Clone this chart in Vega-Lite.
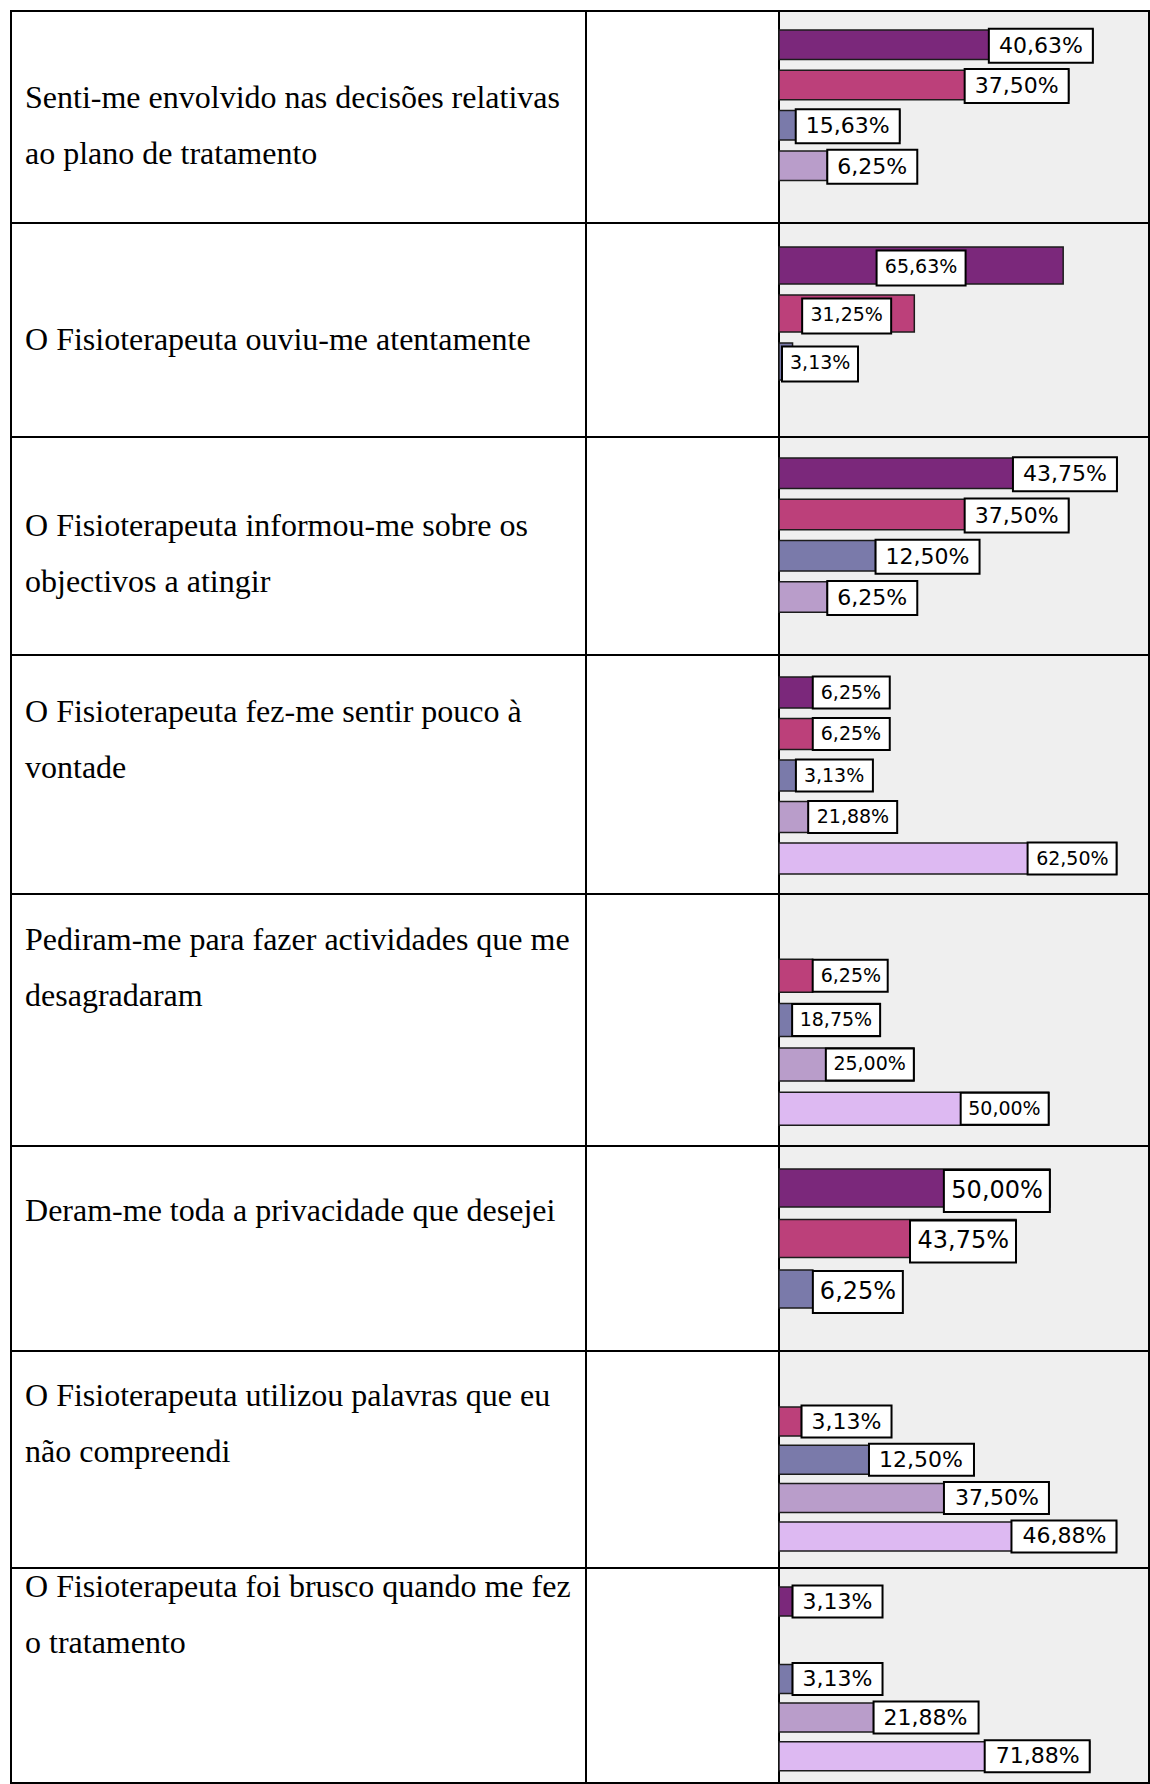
{
"$schema": "https://vega.github.io/schema/vega-lite/v6.json",
"padding": {"left": 10, "top": 10, "right": 0, "bottom": 0},
"background": "white",
"config": {"view": {"stroke": "black", "strokeWidth": 2}},
"datasets": {
"qs": [
{"q": 1, "line": 1, "t": "Senti-me envolvido nas decisões relativas"},
{"q": 1, "line": 2, "t": "ao plano de tratamento"},
{"q": 2, "line": 1, "t": "O Fisioterapeuta ouviu-me atentamente"},
{"q": 3, "line": 1, "t": "O Fisioterapeuta informou-me sobre os"},
{"q": 3, "line": 2, "t": "objectivos a atingir"},
{"q": 4, "line": 1, "t": "O Fisioterapeuta fez-me sentir pouco à"},
{"q": 4, "line": 2, "t": "vontade"},
{"q": 5, "line": 1, "t": "Pediram-me para fazer actividades que me"},
{"q": 5, "line": 2, "t": "desagradaram"},
{"q": 6, "line": 1, "t": "Deram-me toda a privacidade que desejei"},
{"q": 7, "line": 1, "t": "O Fisioterapeuta utilizou palavras que eu"},
{"q": 7, "line": 2, "t": "não compreendi"},
{"q": 8, "line": 1, "t": "O Fisioterapeuta foi brusco quando me fez"},
{"q": 8, "line": 2, "t": "o tratamento"}
],
"bars": [
{"q": 1, "r": "Concordo totalmente", "v": 40.63, "label": "40,63%"},
{"q": 1, "r": "Concordo", "v": 37.50, "label": "37,50%"},
{"q": 1, "r": "Não concordo nem discordo", "v": 15.63, "label": "15,63%"},
{"q": 1, "r": "Discordo", "v": 6.25, "label": "6,25%"},
{"q": 2, "r": "Concordo totalmente", "v": 65.63, "label": "65,63%"},
{"q": 2, "r": "Concordo", "v": 31.25, "label": "31,25%"},
{"q": 2, "r": "Não concordo nem discordo", "v": 3.13, "label": "3,13%"},
{"q": 3, "r": "Concordo totalmente", "v": 43.75, "label": "43,75%"},
{"q": 3, "r": "Concordo", "v": 37.50, "label": "37,50%"},
{"q": 3, "r": "Não concordo nem discordo", "v": 12.50, "label": "12,50%"},
{"q": 3, "r": "Discordo", "v": 6.25, "label": "6,25%"},
{"q": 4, "r": "Concordo totalmente", "v": 6.25, "label": "6,25%"},
{"q": 4, "r": "Concordo", "v": 6.25, "label": "6,25%"},
{"q": 4, "r": "Não concordo nem discordo", "v": 3.13, "label": "3,13%"},
{"q": 4, "r": "Discordo", "v": 21.88, "label": "21,88%"},
{"q": 4, "r": "Discordo totalmente", "v": 62.50, "label": "62,50%"},
{"q": 5, "r": "Concordo", "v": 6.25, "label": "6,25%"},
{"q": 5, "r": "Não concordo nem discordo", "v": 18.75, "label": "18,75%"},
{"q": 5, "r": "Discordo", "v": 25.00, "label": "25,00%"},
{"q": 5, "r": "Discordo totalmente", "v": 50.00, "label": "50,00%"},
{"q": 6, "r": "Concordo totalmente", "v": 50.00, "label": "50,00%"},
{"q": 6, "r": "Concordo", "v": 43.75, "label": "43,75%"},
{"q": 6, "r": "Não concordo nem discordo", "v": 6.25, "label": "6,25%"},
{"q": 7, "r": "Concordo", "v": 3.13, "label": "3,13%"},
{"q": 7, "r": "Não concordo nem discordo", "v": 12.50, "label": "12,50%"},
{"q": 7, "r": "Discordo", "v": 37.50, "label": "37,50%"},
{"q": 7, "r": "Discordo totalmente", "v": 46.88, "label": "46,88%"},
{"q": 8, "r": "Concordo totalmente", "v": 3.13, "label": "3,13%"},
{"q": 8, "r": "Não concordo nem discordo", "v": 3.13, "label": "3,13%"},
{"q": 8, "r": "Discordo", "v": 21.88, "label": "21,88%"},
{"q": 8, "r": "Discordo totalmente", "v": 71.88, "label": "71,88%"}
]
},
"columns": 3,
"spacing": 0,
"bounds": "flush",
"align": "each",
"resolve": {"scale": {"x": "independent", "y": "independent"}},
"concat": [
 {"width": 575, "height": 212, "data": {"name": "qs"}, "transform": [{"filter": "datum.q == 1"}],
  "mark": {"type": "text", "font": "Liberation Serif", "fontSize": 32, "align": "left", "baseline": "alphabetic", "fill": "black"},
  "encoding": {"x": {"datum": 0, "type": "quantitative", "scale": {"domain": [-0.025, 1], "nice": false, "zero": false}, "axis": null},
   "y": {"field": "line", "type": "quantitative", "scale": {"domain": [-0.741, 3.0447], "reverse": true, "nice": false, "zero": false}, "axis": null},
   "text": {"field": "t"}}},
 {"width": 193, "height": 212, "view": {"stroke": "black", "strokeWidth": 2}, "data": {"values": [{"e": 0}]}, "mark": {"type": "text"}, "encoding": {"x": {"field": "e", "type": "quantitative", "axis": null}, "y": {"field": "e", "type": "quantitative", "axis": null}, "text": {"value": ""}}},
 {"width": 370, "height": 212, "view": {"fill": "#efefef", "stroke": "black", "strokeWidth": 2},
  "data": {"name": "bars"}, "transform": [{"filter": "datum.q == 1"}],
  "encoding": {
   "y": {"field": "r", "type": "nominal", "scale": {"domain": ["Concordo totalmente", "Concordo", "Não concordo nem discordo", "Discordo", "Discordo totalmente"], "paddingInner": 0.268, "paddingOuter": 0.2645, "align": 0.892}, "axis": null},
   "x": {"field": "v", "type": "quantitative", "scale": {"domain": [0, 47.9], "nice": false}, "axis": null}},
  "layer": [
   {"mark": {"type": "bar", "stroke": "#1c1c1c", "strokeWidth": 1.5},
    "encoding": {"color": {"field": "r", "type": "nominal", "scale": {"domain": ["Concordo totalmente", "Concordo", "Não concordo nem discordo", "Discordo", "Discordo totalmente"], "range": ["#7b287b", "#bc407a", "#7a7aaa", "#b99dca", "#ddb9f2"]}, "legend": null}}},
   {"transform": [{"filter": "datum.v > 13.5"}], "mark": {"type": "point", "shape": "M-104,-16H0V18H-104Z", "size": 4, "filled": true, "fill": "white", "stroke": "black", "strokeWidth": 2, "opacity": 1}},
   {"transform": [{"filter": "datum.v > 13.5"}], "mark": {"type": "text", "align": "right", "baseline": "middle", "dx": -10, "dy": 1, "font": "DejaVu Sans", "fontSize": 22, "fill": "black"}, "encoding": {"text": {"field": "label"}}},
   {"transform": [{"filter": "datum.v <= 13.5"}], "mark": {"type": "point", "size": 4, "filled": true, "fill": "white", "stroke": "black", "strokeWidth": 2, "opacity": 1},
    "encoding": {"shape": {"condition": {"test": "datum.v < 10", "value": "M0,-16H90V18H0Z"}, "value": "M0,-16H104V18H0Z"}}},
   {"transform": [{"filter": "datum.v <= 13.5"}], "mark": {"type": "text", "align": "left", "baseline": "middle", "dx": 10, "dy": 1, "font": "DejaVu Sans", "fontSize": 22, "fill": "black"}, "encoding": {"text": {"field": "label"}}}
  ]},

 {"width": 575, "height": 214, "data": {"name": "qs"}, "transform": [{"filter": "datum.q == 2"}],
  "mark": {"type": "text", "font": "Liberation Serif", "fontSize": 32, "align": "left", "baseline": "alphabetic", "fill": "black"},
  "encoding": {"x": {"datum": 0, "type": "quantitative", "scale": {"domain": [-0.025, 1], "nice": false, "zero": false}, "axis": null},
   "y": {"field": "line", "type": "quantitative", "scale": {"domain": [-1.2767, 2.5447], "reverse": true, "nice": false, "zero": false}, "axis": null},
   "text": {"field": "t"}}},
 {"width": 193, "height": 214, "view": {"stroke": "black", "strokeWidth": 2}, "data": {"values": [{"e": 0}]}, "mark": {"type": "text"}, "encoding": {"x": {"field": "e", "type": "quantitative", "axis": null}, "y": {"field": "e", "type": "quantitative", "axis": null}, "text": {"value": ""}}},
 {"width": 370, "height": 214, "view": {"fill": "#efefef", "stroke": "black", "strokeWidth": 2},
  "data": {"name": "bars"}, "transform": [{"filter": "datum.q == 2"}],
  "encoding": {
   "y": {"field": "r", "type": "nominal", "scale": {"domain": ["Concordo totalmente", "Concordo", "Não concordo nem discordo"], "paddingInner": 0.229, "paddingOuter": 0.844, "align": 0.296}, "axis": null},
   "x": {"field": "v", "type": "quantitative", "scale": {"domain": [0, 85.45], "nice": false}, "axis": null}},
  "layer": [
   {"mark": {"type": "bar", "stroke": "#1c1c1c", "strokeWidth": 1.5},
    "encoding": {"color": {"field": "r", "type": "nominal", "scale": {"domain": ["Concordo totalmente", "Concordo", "Não concordo nem discordo", "Discordo", "Discordo totalmente"], "range": ["#7b287b", "#bc407a", "#7a7aaa", "#b99dca", "#ddb9f2"]}, "legend": null}}},
   {"transform": [{"filter": "datum.v > 20"}, {"calculate": "datum.v / 2", "as": "mid"}], "mark": {"type": "point", "shape": "M-44.5,-15H44.5V20H-44.5Z", "size": 4, "filled": true, "fill": "white", "stroke": "black", "strokeWidth": 2, "opacity": 1},
    "encoding": {"x": {"field": "mid", "type": "quantitative"}}},
   {"transform": [{"filter": "datum.v > 20"}, {"calculate": "datum.v / 2", "as": "mid"}], "mark": {"type": "text", "align": "center", "baseline": "middle", "dy": 2, "font": "DejaVu Sans", "fontSize": 19, "fill": "black"},
    "encoding": {"x": {"field": "mid", "type": "quantitative"}, "text": {"field": "label"}}},
   {"transform": [{"filter": "datum.v <= 20"}], "mark": {"type": "point", "shape": "M3,-15H79V20H3Z", "size": 4, "filled": true, "fill": "white", "stroke": "black", "strokeWidth": 2, "opacity": 1},
    "encoding": {"x": {"datum": 0, "type": "quantitative"}}},
   {"transform": [{"filter": "datum.v <= 20"}], "mark": {"type": "text", "align": "left", "baseline": "middle", "dx": 11, "dy": 2, "font": "DejaVu Sans", "fontSize": 19, "fill": "black"},
    "encoding": {"x": {"datum": 0, "type": "quantitative"}, "text": {"field": "label"}}}
  ]},

 {"width": 575, "height": 218, "data": {"name": "qs"}, "transform": [{"filter": "datum.q == 3"}],
  "mark": {"type": "text", "font": "Liberation Serif", "fontSize": 32, "align": "left", "baseline": "alphabetic", "fill": "black"},
  "encoding": {"x": {"datum": 0, "type": "quantitative", "scale": {"domain": [-0.025, 1], "nice": false, "zero": false}, "axis": null},
   "y": {"field": "line", "type": "quantitative", "scale": {"domain": [-0.7767, 3.1161], "reverse": true, "nice": false, "zero": false}, "axis": null},
   "text": {"field": "t"}}},
 {"width": 193, "height": 218, "view": {"stroke": "black", "strokeWidth": 2}, "data": {"values": [{"e": 0}]}, "mark": {"type": "text"}, "encoding": {"x": {"field": "e", "type": "quantitative", "axis": null}, "y": {"field": "e", "type": "quantitative", "axis": null}, "text": {"value": ""}}},
 {"width": 370, "height": 218, "view": {"fill": "#efefef", "stroke": "black", "strokeWidth": 2},
  "data": {"name": "bars"}, "transform": [{"filter": "datum.q == 3"}],
  "encoding": {
   "y": {"field": "r", "type": "nominal", "scale": {"domain": ["Concordo totalmente", "Concordo", "Não concordo nem discordo", "Discordo", "Discordo totalmente"], "paddingInner": 0.2615, "paddingOuter": 0.27, "align": 0.94}, "axis": null},
   "x": {"field": "v", "type": "quantitative", "scale": {"domain": [0, 47.9], "nice": false}, "axis": null}},
  "layer": [
   {"mark": {"type": "bar", "stroke": "#1c1c1c", "strokeWidth": 1.5},
    "encoding": {"color": {"field": "r", "type": "nominal", "scale": {"domain": ["Concordo totalmente", "Concordo", "Não concordo nem discordo", "Discordo", "Discordo totalmente"], "range": ["#7b287b", "#bc407a", "#7a7aaa", "#b99dca", "#ddb9f2"]}, "legend": null}}},
   {"transform": [{"filter": "datum.v > 13.5"}], "mark": {"type": "point", "shape": "M-104,-16H0V18H-104Z", "size": 4, "filled": true, "fill": "white", "stroke": "black", "strokeWidth": 2, "opacity": 1}},
   {"transform": [{"filter": "datum.v > 13.5"}], "mark": {"type": "text", "align": "right", "baseline": "middle", "dx": -10, "dy": 1, "font": "DejaVu Sans", "fontSize": 22, "fill": "black"}, "encoding": {"text": {"field": "label"}}},
   {"transform": [{"filter": "datum.v <= 13.5"}], "mark": {"type": "point", "size": 4, "filled": true, "fill": "white", "stroke": "black", "strokeWidth": 2, "opacity": 1},
    "encoding": {"shape": {"condition": {"test": "datum.v < 10", "value": "M0,-16H90V18H0Z"}, "value": "M0,-16H104V18H0Z"}}},
   {"transform": [{"filter": "datum.v <= 13.5"}], "mark": {"type": "text", "align": "left", "baseline": "middle", "dx": 10, "dy": 1, "font": "DejaVu Sans", "fontSize": 22, "fill": "black"}, "encoding": {"text": {"field": "label"}}}
  ]},

 {"width": 575, "height": 239, "data": {"name": "qs"}, "transform": [{"filter": "datum.q == 4"}],
  "mark": {"type": "text", "font": "Liberation Serif", "fontSize": 32, "align": "left", "baseline": "alphabetic", "fill": "black"},
  "encoding": {"x": {"datum": 0, "type": "quantitative", "scale": {"domain": [-0.025, 1], "nice": false, "zero": false}, "axis": null},
   "y": {"field": "line", "type": "quantitative", "scale": {"domain": [-0.2053, 4.0626], "reverse": true, "nice": false, "zero": false}, "axis": null},
   "text": {"field": "t"}}},
 {"width": 193, "height": 239, "view": {"stroke": "black", "strokeWidth": 2}, "data": {"values": [{"e": 0}]}, "mark": {"type": "text"}, "encoding": {"x": {"field": "e", "type": "quantitative", "axis": null}, "y": {"field": "e", "type": "quantitative", "axis": null}, "text": {"value": ""}}},
 {"width": 370, "height": 239, "view": {"fill": "#efefef", "stroke": "black", "strokeWidth": 2},
  "data": {"name": "bars"}, "transform": [{"filter": "datum.q == 4"}],
  "encoding": {
   "y": {"field": "r", "type": "nominal", "scale": {"domain": ["Concordo totalmente", "Concordo", "Não concordo nem discordo", "Discordo", "Discordo totalmente"], "paddingInner": 0.253, "paddingOuter": 0.506, "align": 0.524}, "axis": null},
   "x": {"field": "v", "type": "quantitative", "scale": {"domain": [0, 68.5], "nice": false}, "axis": null}},
  "layer": [
   {"mark": {"type": "bar", "stroke": "#1c1c1c", "strokeWidth": 1.5},
    "encoding": {"color": {"field": "r", "type": "nominal", "scale": {"domain": ["Concordo totalmente", "Concordo", "Não concordo nem discordo", "Discordo", "Discordo totalmente"], "range": ["#7b287b", "#bc407a", "#7a7aaa", "#b99dca", "#ddb9f2"]}, "legend": null}}},
   {"transform": [{"filter": "datum.v > 16.5"}], "mark": {"type": "point", "shape": "M-89,-16H0V16H-89Z", "size": 4, "filled": true, "fill": "white", "stroke": "black", "strokeWidth": 2, "opacity": 1}},
   {"transform": [{"filter": "datum.v > 16.5"}], "mark": {"type": "text", "align": "right", "baseline": "middle", "dx": -8, "font": "DejaVu Sans", "fontSize": 19, "fill": "black"}, "encoding": {"text": {"field": "label"}}},
   {"transform": [{"filter": "datum.v <= 16.5"}], "mark": {"type": "point", "size": 4, "filled": true, "fill": "white", "stroke": "black", "strokeWidth": 2, "opacity": 1},
    "encoding": {"shape": {"condition": {"test": "datum.v < 10", "value": "M0,-16H77V16H0Z"}, "value": "M0,-16H89V16H0Z"}}},
   {"transform": [{"filter": "datum.v <= 16.5"}], "mark": {"type": "text", "align": "left", "baseline": "middle", "dx": 8, "font": "DejaVu Sans", "fontSize": 19, "fill": "black"}, "encoding": {"text": {"field": "label"}}}
  ]},

 {"width": 575, "height": 252, "data": {"name": "qs"}, "transform": [{"filter": "datum.q == 5"}],
  "mark": {"type": "text", "font": "Liberation Serif", "fontSize": 32, "align": "left", "baseline": "alphabetic", "fill": "black"},
  "encoding": {"x": {"datum": 0, "type": "quantitative", "scale": {"domain": [-0.025, 1], "nice": false, "zero": false}, "axis": null},
   "y": {"field": "line", "type": "quantitative", "scale": {"domain": [-0.0089, 4.4911], "reverse": true, "nice": false, "zero": false}, "axis": null},
   "text": {"field": "t"}}},
 {"width": 193, "height": 252, "view": {"stroke": "black", "strokeWidth": 2}, "data": {"values": [{"e": 0}]}, "mark": {"type": "text"}, "encoding": {"x": {"field": "e", "type": "quantitative", "axis": null}, "y": {"field": "e", "type": "quantitative", "axis": null}, "text": {"value": ""}}},
 {"width": 370, "height": 252, "view": {"fill": "#efefef", "stroke": "black", "strokeWidth": 2},
  "data": {"name": "bars"}, "transform": [{"filter": "datum.q == 5"}],
  "encoding": {
   "y": {"field": "r", "type": "nominal", "scale": {"domain": ["Concordo totalmente", "Concordo", "Não concordo nem discordo", "Discordo", "Discordo totalmente"], "paddingInner": 0.255, "paddingOuter": 0.4717, "align": 0.502}, "axis": null},
   "x": {"field": "v", "type": "quantitative", "scale": {"domain": [0, 68.6], "nice": false}, "axis": null}},
  "layer": [
   {"mark": {"type": "bar", "stroke": "#1c1c1c", "strokeWidth": 1.5},
    "encoding": {"color": {"field": "r", "type": "nominal", "scale": {"domain": ["Concordo totalmente", "Concordo", "Não concordo nem discordo", "Discordo", "Discordo totalmente"], "range": ["#7b287b", "#bc407a", "#7a7aaa", "#b99dca", "#ddb9f2"]}, "legend": null}}},
   {"transform": [{"filter": "datum.v > 16.5"}], "mark": {"type": "point", "shape": "M-88,-16H0V16H-88Z", "size": 4, "filled": true, "fill": "white", "stroke": "black", "strokeWidth": 2, "opacity": 1}},
   {"transform": [{"filter": "datum.v > 16.5"}], "mark": {"type": "text", "align": "right", "baseline": "middle", "dx": -8, "font": "DejaVu Sans", "fontSize": 19, "fill": "black"}, "encoding": {"text": {"field": "label"}}},
   {"transform": [{"filter": "datum.v <= 16.5"}], "mark": {"type": "point", "size": 4, "filled": true, "fill": "white", "stroke": "black", "strokeWidth": 2, "opacity": 1},
    "encoding": {"shape": {"condition": {"test": "datum.v < 10", "value": "M0,-16H75V16H0Z"}, "value": "M0,-16H88V16H0Z"}}},
   {"transform": [{"filter": "datum.v <= 16.5"}], "mark": {"type": "text", "align": "left", "baseline": "middle", "dx": 8, "font": "DejaVu Sans", "fontSize": 19, "fill": "black"}, "encoding": {"text": {"field": "label"}}}
  ]},

 {"width": 575, "height": 205, "data": {"name": "qs"}, "transform": [{"filter": "datum.q == 6"}],
  "mark": {"type": "text", "font": "Liberation Serif", "fontSize": 32, "align": "left", "baseline": "alphabetic", "fill": "black"},
  "encoding": {"x": {"datum": 0, "type": "quantitative", "scale": {"domain": [-0.025, 1], "nice": false, "zero": false}, "axis": null},
   "y": {"field": "line", "type": "quantitative", "scale": {"domain": [-0.3482, 3.3125], "reverse": true, "nice": false, "zero": false}, "axis": null},
   "text": {"field": "t"}}},
 {"width": 193, "height": 205, "view": {"stroke": "black", "strokeWidth": 2}, "data": {"values": [{"e": 0}]}, "mark": {"type": "text"}, "encoding": {"x": {"field": "e", "type": "quantitative", "axis": null}, "y": {"field": "e", "type": "quantitative", "axis": null}, "text": {"value": ""}}},
 {"width": 370, "height": 205, "view": {"fill": "#efefef", "stroke": "black", "strokeWidth": 2},
  "data": {"name": "bars"}, "transform": [{"filter": "datum.q == 6"}],
  "encoding": {
   "y": {"field": "r", "type": "nominal", "scale": {"domain": ["Concordo totalmente", "Concordo", "Não concordo nem discordo"], "paddingInner": 0.248, "paddingOuter": 0.654, "align": 0.348}, "axis": null},
   "x": {"field": "v", "type": "quantitative", "scale": {"domain": [0, 68.3], "nice": false}, "axis": null}},
  "layer": [
   {"mark": {"type": "bar", "stroke": "#1c1c1c", "strokeWidth": 1.5},
    "encoding": {"color": {"field": "r", "type": "nominal", "scale": {"domain": ["Concordo totalmente", "Concordo", "Não concordo nem discordo", "Discordo", "Discordo totalmente"], "range": ["#7b287b", "#bc407a", "#7a7aaa", "#b99dca", "#ddb9f2"]}, "legend": null}}},
   {"transform": [{"filter": "datum.v > 19.6"}], "mark": {"type": "point", "shape": "M-106,-18H0V24H-106Z", "size": 4, "filled": true, "fill": "white", "stroke": "black", "strokeWidth": 2, "opacity": 1}},
   {"transform": [{"filter": "datum.v > 19.6"}], "mark": {"type": "text", "align": "right", "baseline": "middle", "dx": -7, "dy": 3, "font": "DejaVu Sans", "fontSize": 24, "fill": "black"}, "encoding": {"text": {"field": "label"}}},
   {"transform": [{"filter": "datum.v <= 19.6"}], "mark": {"type": "point", "size": 4, "filled": true, "fill": "white", "stroke": "black", "strokeWidth": 2, "opacity": 1},
    "encoding": {"shape": {"condition": {"test": "datum.v < 10", "value": "M0,-18H90V24H0Z"}, "value": "M0,-18H106V24H0Z"}}},
   {"transform": [{"filter": "datum.v <= 19.6"}], "mark": {"type": "text", "align": "left", "baseline": "middle", "dx": 7, "dy": 3, "font": "DejaVu Sans", "fontSize": 24, "fill": "black"}, "encoding": {"text": {"field": "label"}}}
  ]},

 {"width": 575, "height": 217, "data": {"name": "qs"}, "transform": [{"filter": "datum.q == 7"}],
  "mark": {"type": "text", "font": "Liberation Serif", "fontSize": 32, "align": "left", "baseline": "alphabetic", "fill": "black"},
  "encoding": {"x": {"datum": 0, "type": "quantitative", "scale": {"domain": [-0.025, 1], "nice": false, "zero": false}, "axis": null},
   "y": {"field": "line", "type": "quantitative", "scale": {"domain": [0.009, 3.884], "reverse": true, "nice": false, "zero": false}, "axis": null},
   "text": {"field": "t"}}},
 {"width": 193, "height": 217, "view": {"stroke": "black", "strokeWidth": 2}, "data": {"values": [{"e": 0}]}, "mark": {"type": "text"}, "encoding": {"x": {"field": "e", "type": "quantitative", "axis": null}, "y": {"field": "e", "type": "quantitative", "axis": null}, "text": {"value": ""}}},
 {"width": 370, "height": 217, "view": {"fill": "#efefef", "stroke": "black", "strokeWidth": 2},
  "data": {"name": "bars"}, "transform": [{"filter": "datum.q == 7"}],
  "encoding": {
   "y": {"field": "r", "type": "nominal", "scale": {"domain": ["Concordo totalmente", "Concordo", "Não concordo nem discordo", "Discordo", "Discordo totalmente"], "paddingInner": 0.243, "paddingOuter": 0.4545, "align": 0.509}, "axis": null},
   "x": {"field": "v", "type": "quantitative", "scale": {"domain": [0, 51.4], "nice": false}, "axis": null}},
  "layer": [
   {"mark": {"type": "bar", "stroke": "#1c1c1c", "strokeWidth": 1.5},
    "encoding": {"color": {"field": "r", "type": "nominal", "scale": {"domain": ["Concordo totalmente", "Concordo", "Não concordo nem discordo", "Discordo", "Discordo totalmente"], "range": ["#7b287b", "#bc407a", "#7a7aaa", "#b99dca", "#ddb9f2"]}, "legend": null}}},
   {"transform": [{"filter": "datum.v > 14.6"}], "mark": {"type": "point", "shape": "M-105,-16H0V16H-105Z", "size": 4, "filled": true, "fill": "white", "stroke": "black", "strokeWidth": 2, "opacity": 1}},
   {"transform": [{"filter": "datum.v > 14.6"}], "mark": {"type": "text", "align": "right", "baseline": "middle", "dx": -10, "font": "DejaVu Sans", "fontSize": 22, "fill": "black"}, "encoding": {"text": {"field": "label"}}},
   {"transform": [{"filter": "datum.v <= 14.6"}], "mark": {"type": "point", "size": 4, "filled": true, "fill": "white", "stroke": "black", "strokeWidth": 2, "opacity": 1},
    "encoding": {"shape": {"condition": {"test": "datum.v < 10", "value": "M0,-16H90V16H0Z"}, "value": "M0,-16H105V16H0Z"}}},
   {"transform": [{"filter": "datum.v <= 14.6"}], "mark": {"type": "text", "align": "left", "baseline": "middle", "dx": 10, "font": "DejaVu Sans", "fontSize": 22, "fill": "black"}, "encoding": {"text": {"field": "label"}}}
  ]},

 {"width": 575, "height": 215, "data": {"name": "qs"}, "transform": [{"filter": "datum.q == 8"}],
  "mark": {"type": "text", "font": "Liberation Serif", "fontSize": 32, "align": "left", "baseline": "alphabetic", "fill": "black"},
  "encoding": {"x": {"datum": 0, "type": "quantitative", "scale": {"domain": [-0.025, 1], "nice": false, "zero": false}, "axis": null},
   "y": {"field": "line", "type": "quantitative", "scale": {"domain": [0.4733, 4.3126], "reverse": true, "nice": false, "zero": false}, "axis": null},
   "text": {"field": "t"}}},
 {"width": 193, "height": 215, "view": {"stroke": "black", "strokeWidth": 2}, "data": {"values": [{"e": 0}]}, "mark": {"type": "text"}, "encoding": {"x": {"field": "e", "type": "quantitative", "axis": null}, "y": {"field": "e", "type": "quantitative", "axis": null}, "text": {"value": ""}}},
 {"width": 370, "height": 215, "view": {"fill": "#efefef", "stroke": "black", "strokeWidth": 2},
  "data": {"name": "bars"}, "transform": [{"filter": "datum.q == 8"}],
  "encoding": {
   "y": {"field": "r", "type": "nominal", "scale": {"domain": ["Concordo totalmente", "Concordo", "Não concordo nem discordo", "Discordo", "Discordo totalmente"], "paddingInner": 0.251, "paddingOuter": 0.4035, "align": 0.609}, "axis": null},
   "x": {"field": "v", "type": "quantitative", "scale": {"domain": [0, 85.6], "nice": false}, "axis": null}},
  "layer": [
   {"mark": {"type": "bar", "stroke": "#1c1c1c", "strokeWidth": 1.5},
    "encoding": {"color": {"field": "r", "type": "nominal", "scale": {"domain": ["Concordo totalmente", "Concordo", "Não concordo nem discordo", "Discordo", "Discordo totalmente"], "range": ["#7b287b", "#bc407a", "#7a7aaa", "#b99dca", "#ddb9f2"]}, "legend": null}}},
   {"transform": [{"filter": "datum.v > 24.3"}], "mark": {"type": "point", "shape": "M-105,-16H0V16H-105Z", "size": 4, "filled": true, "fill": "white", "stroke": "black", "strokeWidth": 2, "opacity": 1}},
   {"transform": [{"filter": "datum.v > 24.3"}], "mark": {"type": "text", "align": "right", "baseline": "middle", "dx": -10, "font": "DejaVu Sans", "fontSize": 22, "fill": "black"}, "encoding": {"text": {"field": "label"}}},
   {"transform": [{"filter": "datum.v <= 24.3"}], "mark": {"type": "point", "size": 4, "filled": true, "fill": "white", "stroke": "black", "strokeWidth": 2, "opacity": 1},
    "encoding": {"shape": {"condition": {"test": "datum.v < 10", "value": "M0,-16H90V16H0Z"}, "value": "M0,-16H105V16H0Z"}}},
   {"transform": [{"filter": "datum.v <= 24.3"}], "mark": {"type": "text", "align": "left", "baseline": "middle", "dx": 10, "font": "DejaVu Sans", "fontSize": 22, "fill": "black"}, "encoding": {"text": {"field": "label"}}}
  ]}
]
}
